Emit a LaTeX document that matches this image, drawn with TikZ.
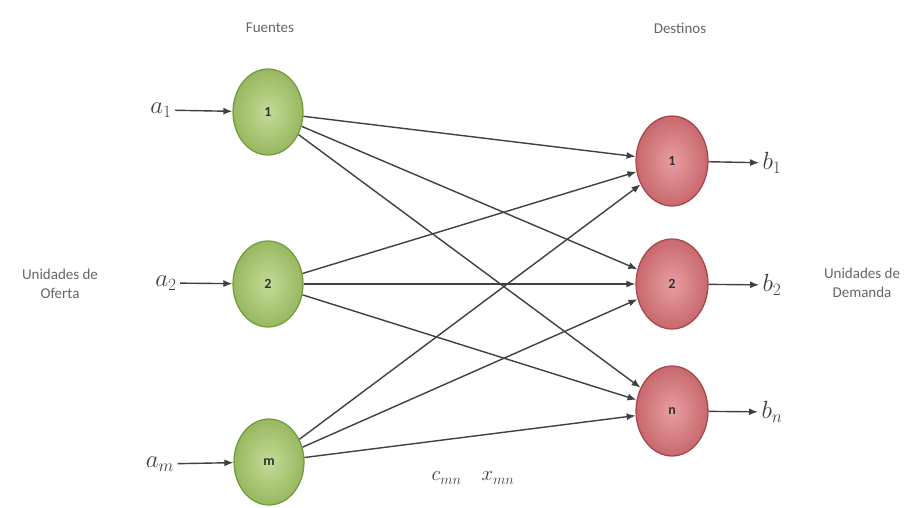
\documentclass[tikz,border=0pt]{standalone}
\usepackage{fontspec}
\setsansfont{Carlito}
\usetikzlibrary{arrows.meta,shapes.geometric}
\definecolor{srcfill}{HTML}{A9CC6B}
\definecolor{srcdark}{HTML}{6E9A3A}
\definecolor{dstfill}{HTML}{DE7479}
\definecolor{dstdark}{HTML}{A8424A}
\tikzset{
  src/.style={ellipse, minimum width=70pt, minimum height=86pt, draw=srcdark, line width=1.2pt,
    inner color=srcfill!70!white, outer color=srcfill!90!black, font=\sffamily\bfseries\fontsize{14}{16}\selectfont, text=black!80},
  dst/.style={ellipse, minimum width=72pt, minimum height=90pt, draw=dstdark, line width=1.2pt,
    inner color=dstfill!70!white, outer color=dstfill!90!black, font=\sffamily\bfseries\fontsize{14}{16}\selectfont, text=black!80},
  lbl/.style={font=\sffamily\fontsize{15}{19}\selectfont, text=black!60, align=center},
  var/.style={font=\fontsize{24}{26}\selectfont, text=black!75},
  flow/.style={draw=black!75, line width=1.4pt, -{Latex[length=9pt,width=7pt]}}
}
\begin{document}
\begin{tikzpicture}[x=1pt,y=-1pt]
\useasboundingbox[fill=white] (0,0) rectangle (919,508);
% headings and side labels
\node[lbl] (fuentes) at (270,28) {Fuentes};
\node[lbl] (destinos) at (680,28) {Destinos};
\node[lbl] (oferta) at (60,284) {Unidades de\\Oferta};
\node[lbl] (demanda) at (862,283) {Unidades de\\Demanda};
% sources
\node[src] (s1) at (268,112) {1};
\node[src] (s2) at (268,284) {2};
\node[src] (sm) at (269,462) {m};
% destinations
\node[dst] (d1) at (672,161) {1};
\node[dst] (d2) at (672,284) {2};
\node[dst] (dn) at (672,411) {n};
% supplies
\node[var] (a1) at (161,110) {$a_1$};
\node[var] (a2) at (166,283) {$a_2$};
\node[var] (am) at (160,464) {$a_m$};
% demands
\node[var] (b1) at (772,163) {$b_1$};
\node[var] (b2) at (772,285) {$b_2$};
\node[var] (bn) at (772,412) {$b_n$};
% cost and flow
\node[var, font=\fontsize{20}{22}\selectfont] (cx) at (473,478) {$c_{mn}\quad x_{mn}$};
% arrows in and out
\draw[flow] (a1) -- (s1);
\draw[flow] (a2) -- (s2);
\draw[flow] (am) -- (sm);
\draw[flow] (d1) -- (b1);
\draw[flow] (d2) -- (b2);
\draw[flow] (dn) -- (bn);
% transport routes
\foreach \s in {s1,s2,sm}
  \foreach \d in {d1,d2,dn}
    \draw[flow] (\s) -- (\d);
\end{tikzpicture}
\end{document}
